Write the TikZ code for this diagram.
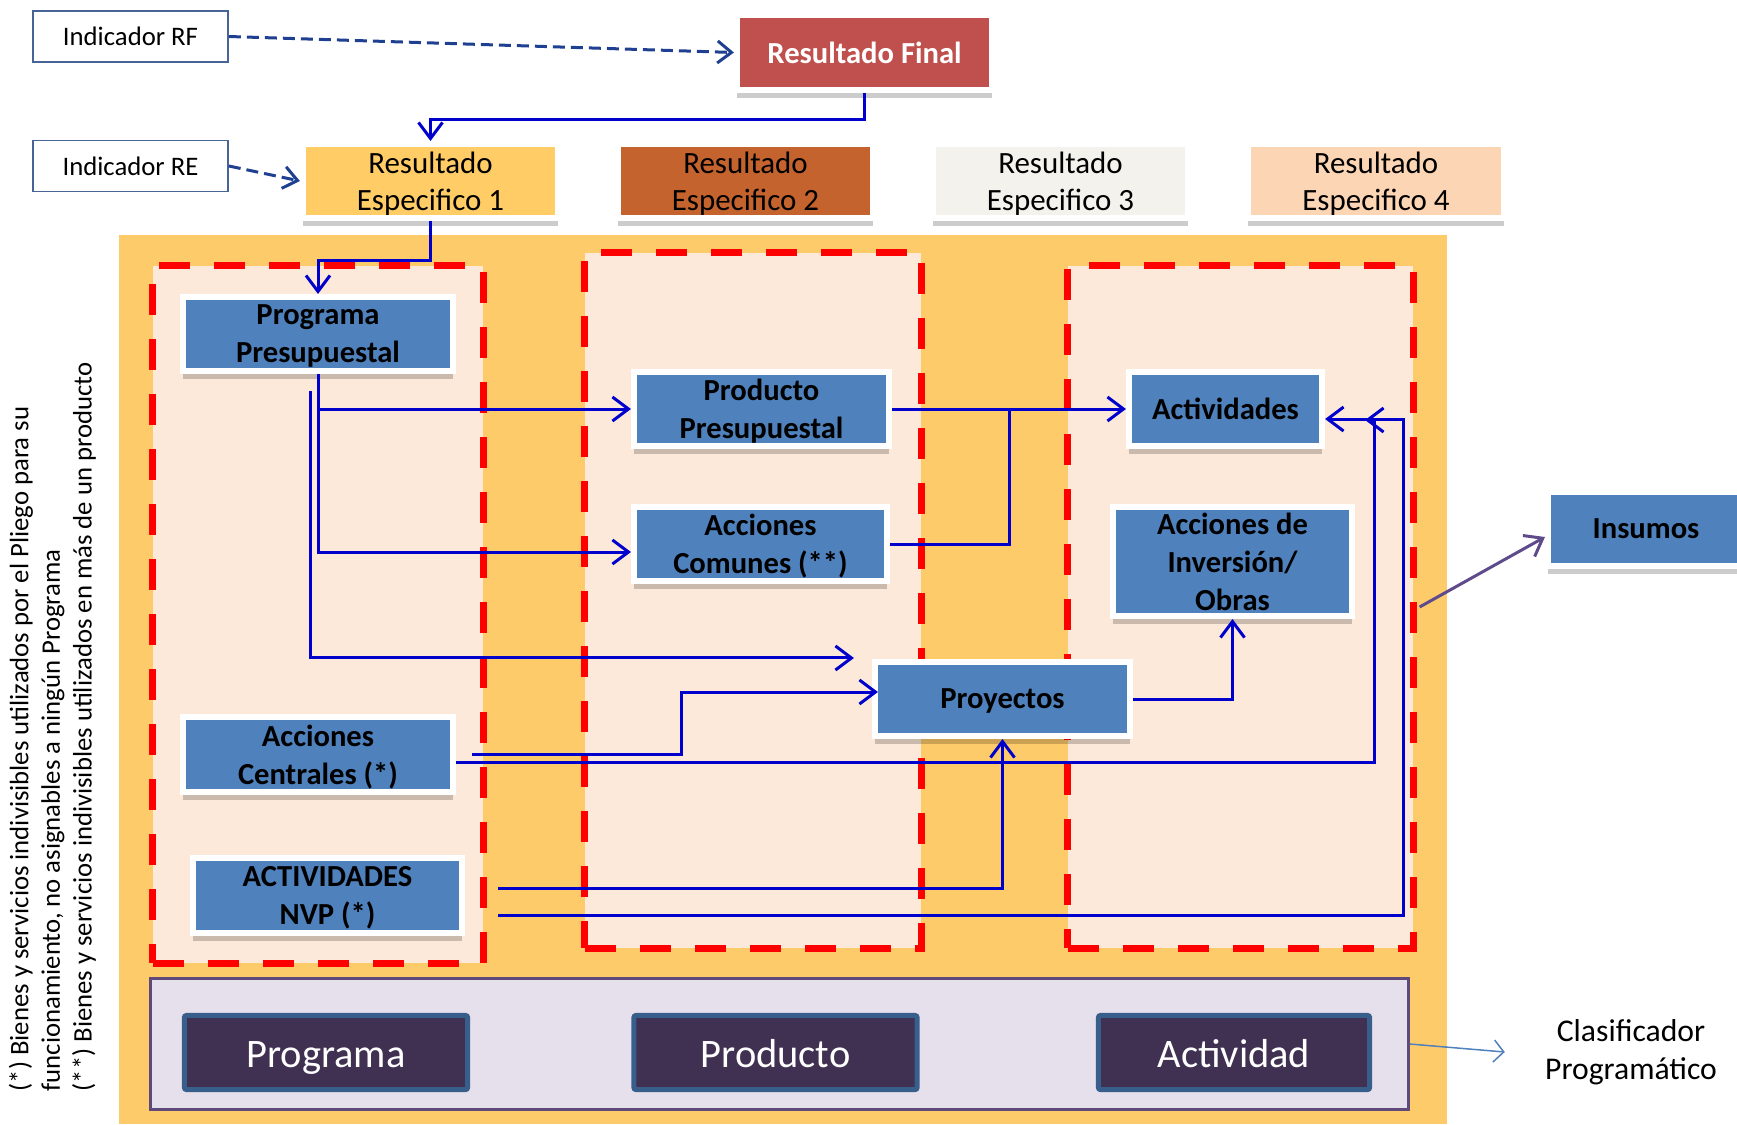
\documentclass[tikz,border=0pt]{standalone}
\usepackage{fontspec}
\setmainfont{Carlito}
\usetikzlibrary{arrows.meta,shadows,calc}
\definecolor{naranja}{RGB}{254,203,106}
\definecolor{durazno}{RGB}{253,233,217}
\definecolor{azulcaja}{RGB}{79,129,189}
\definecolor{rojorf}{RGB}{192,80,77}
\definecolor{reuno}{RGB}{255,204,102}
\definecolor{redos}{RGB}{196,99,45}
\definecolor{retres}{RGB}{243,242,236}
\definecolor{recuatro}{RGB}{252,213,181}
\definecolor{lavanda}{RGB}{229,224,236}
\definecolor{bordelav}{RGB}{95,73,122}
\definecolor{oscuro}{RGB}{64,49,82}
\definecolor{bordeosc}{RGB}{56,94,140}
\definecolor{azulflecha}{RGB}{0,0,204}
\definecolor{azulguion}{RGB}{31,64,145}
\definecolor{bordeind}{RGB}{70,100,150}
\definecolor{morado}{RGB}{95,75,139}

\begin{document}
\begin{tikzpicture}[x=0.01cm, y=-0.01cm,
    marco/.style={draw=white, line width=0.06cm, inner sep=0pt, align=center, text depth=0pt,
      drop shadow={shadow xshift=0cm, shadow yshift=-0.08cm, fill=black, opacity=0.2}},
    azul/.style={marco, fill=azulcaja, font=\fontsize{8.7}{10.8}\selectfont\bfseries},
    resultado/.style={marco, minimum width=2.55cm, minimum height=0.74cm, font=\fontsize{8.8}{10.5}\selectfont},
    indicador/.style={draw=bordeind, line width=0.015cm, fill=white, minimum width=1.95cm, minimum height=0.51cm, font=\fontsize{7.6}{9}\selectfont},
    zona/.style={draw=red, fill=durazno, line width=0.07cm, dash pattern=on 0.31cm off 0.24cm, inner sep=0pt},
    clave/.style={draw=bordeosc, fill=oscuro, line width=0.05cm, rounded corners=0.02cm, minimum height=0.74cm,
      text height=0.32cm, text depth=0.03cm, text=white, font=\fontsize{11.5}{13}\selectfont},
    flecha/.style={draw=azulflecha, line width=0.03cm, -{Straight Barb[length=0.16cm,width=0.24cm]}},
    linea/.style={draw=azulflecha, line width=0.03cm},
    guion/.style={draw=azulguion, line width=0.03cm, dash pattern=on 0.12cm off 0.06cm, -{Straight Barb[length=0.14cm,width=0.22cm]}}
  ]
    \useasboundingbox (0,0) rectangle (1737,1124);
    \fill[naranja] (119,235) rectangle (1447,1124);

    % zonas punteadas
    \node[zona, minimum width=3.30cm, minimum height=6.97cm] (c1) at (318,614.5) {};
    \node[zona, minimum width=3.36cm, minimum height=6.95cm] (c2) at (753,600.5) {};
    \node[zona, minimum width=3.45cm, minimum height=6.82cm] (c3) at (1240.5,607) {};

    % indicadores y resultados
    \node[indicador] (indRF) at (130.5,36.5) {Indicador RF};
    \node[indicador] (indRE) at (130.5,166) {Indicador RE};
    \node[marco, fill=rojorf, text=white, minimum width=2.55cm, minimum height=0.75cm, font=\fontsize{8.7}{10}\selectfont\bfseries] (rf) at (864.5,52.5) {Resultado Final};
    \node[resultado, fill=reuno] (re1) at (430.5,181) {Resultado\\Especifico 1};
    \node[resultado, fill=redos] (re2) at (745.5,181) {Resultado\\Especifico 2};
    \node[resultado, fill=retres] (re3) at (1060.5,181) {Resultado\\Especifico 3};
    \node[resultado, fill=recuatro] (re4) at (1376,181) {Resultado\\Especifico 4};

    % cajas azules
    \node[azul, minimum width=2.70cm, minimum height=0.74cm] (pp) at (318,334) {Programa\\Presupuestal};
    \node[azul, minimum width=2.55cm, minimum height=0.74cm] (prod) at (761.5,409) {Producto\\Presupuestal};
    \node[azul, minimum width=2.53cm, minimum height=0.74cm] (acom) at (760.5,544) {Acciones\\Comunes (**)};
    \node[azul, minimum width=1.93cm, minimum height=0.74cm] (act) at (1225.5,409) {Actividades};
    \node[azul, minimum width=2.39cm, minimum height=1.09cm] (inv) at (1232.5,561.5) {Acciones de\\Inversión/\\Obras};
    \node[azul, minimum width=1.96cm, minimum height=0.74cm] (ins) at (1646,529) {Insumos};
    \node[azul, minimum width=2.55cm, minimum height=0.74cm] (proy) at (1002.5,699) {Proyectos};
    \node[azul, minimum width=2.70cm, minimum height=0.75cm] (acen) at (318,754.5) {Acciones\\Centrales (*)};
    \node[azul, minimum width=2.69cm, minimum height=0.75cm] (nvp) at (327.5,895.5) {ACTIVIDADES\\NVP (*)};

    % clasificador
    \node[draw=bordelav, fill=lavanda, line width=0.03cm, minimum width=12.57cm, minimum height=1.31cm] (clas) at (779.5,1044) {};
    \node[clave, minimum width=2.83cm] (dprog) at (326,1052.5) {Programa};
    \node[clave, minimum width=2.83cm] (dprod) at (775.5,1052.5) {Producto};
    \node[clave, minimum width=2.71cm] (dact) at (1234,1052.5) {Actividad};
    \node[align=center, font=\fontsize{9}{10.9}\selectfont] (ctxt) at (1631,1052) {Clasificador\\Programático};

    % nota lateral
    \node[rotate=90, anchor=north west, inner sep=0pt, align=left, font=\fontsize{7.6}{9}\selectfont] (nota) at (8,1092)
      {(*) Bienes y servicios indivisibles utilizados por el Pliego para su\\funcionamiento, no asignables a ningún Programa\\(**) Bienes y servicios indivisibles utilizados en más de un producto};

    % conectores
    \draw[guion] (indRF.east) -- (rf.west);
    \draw[guion] (indRE.east) -- (re1.west);
    \draw[flecha] (rf.south) -- ++(0,26) -| (re1.north);
    \draw[flecha] (re1.south) -- ++(0,39) -| (pp.north);
    \draw[flecha] (pp.south) |- (prod.west);
    \draw[flecha] (pp.south) |- ($(acom.west)+(0,8)$);
    \draw[flecha] ($(pp.south)+(-8,17)$) |- ($(proy.north west)+(-18,-1)$);
    \draw[flecha] (prod.east) -- (act.west);
    \draw[linea] (acom.east) -| ($(prod.east)!0.5!(act.west)$);
    \draw[flecha] ($(acen.east)+(16,0)$) -- ++(209,0) |- ($(proy.west)+(6,-7)$);
    \draw[flecha] ($(acen.east)+(0,8)$) -| ($(act.east)+(49,11)$) -- ++(-9,0);
    \draw[flecha] ($(nvp.east)+(33,20)$) -| ($(act.east)+(78,10)$) -- ($(act.east)+(0,10)$);
    \draw[flecha] ($(nvp.east)+(33,-7)$) -| (proy.south);
    \draw[flecha] (proy.east) -| (inv.south);
    \draw[draw=morado, line width=0.03cm, -{Straight Barb[length=0.16cm,width=0.24cm]}] ($(c3.east)+(3,0)$) -- ($(ins.west)+(0,8)$);
    \draw[draw=azulcaja, line width=0.015cm, -{Straight Barb[length=0.1cm,width=0.22cm]}] (clas.east) -- ([xshift=-0.28cm]ctxt.west);
\end{tikzpicture}
\end{document}
